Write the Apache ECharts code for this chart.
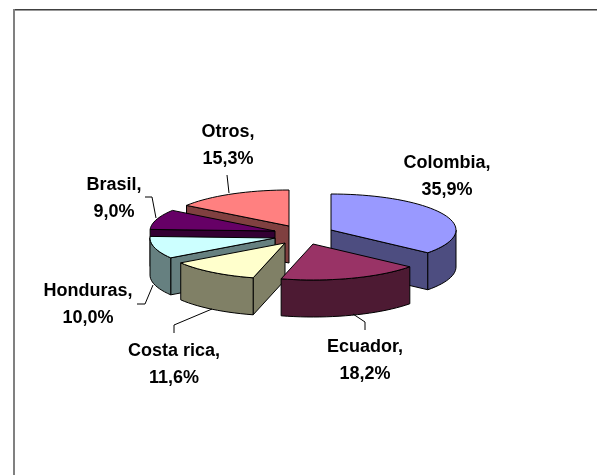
<!DOCTYPE html>
<html>
<head>
<meta charset="utf-8">
<style>html,body{margin:0;padding:0;background:#fff}#c{width:597px;height:475px}</style>
<script src="https://cdn.jsdelivr.net/npm/echarts@6/dist/echarts.min.js"></script>
</head>
<body>
<div id="c"></div>
<script>
const categories = ['Colombia', 'Ecuador', 'Costa rica', 'Honduras', 'Brasil', 'Otros'];
const shares = [35.9, 18.2, 11.6, 10.0, 9.0, 15.3];

const topColors = ['#9999FF', '#993366', '#FFFFCC', '#CCFFFF', '#660066', '#FF8080'];
const wallColors = ['#4D4D80', '#4D1A33', '#808066', '#668080', '#330033', '#804040'];
const apexes = [[331, 230], [313, 244], [285, 243], [275, 238], [275, 231], [289, 226]];
const paintOrder = [1, 5, 4, 3, 2, 0];
const labelCenters = [[447, 177], [365, 361], [174, 365], [88, 305], [114, 198.5], [228, 145.5]];
const leaders = [
  null,
  [[353, 314], [365, 322], [365, 330]],
  [[212, 309], [174, 325], [174, 333]],
  [[153, 285], [145, 304], [137, 304]],
  [[156, 218], [152, 197], [145, 197]],
  [[229, 193], [227, 175]]
];
const RX = 125, RY = 36, DEPTH = 37;

const total = shares.reduce(function (a, b) { return a + b; }, 0);
function startAngle(i) {
  let s = 0;
  for (let k = 0; k < i; k++) s += shares[k];
  return s / total * 360;
}
function rim(c, deg, dy) {
  const r = deg * Math.PI / 180;
  return [c[0] + RX * Math.sin(r), c[1] - RY * Math.cos(r) + (dy || 0)];
}
function arc(c, a, b, dy) {
  const pts = [], n = Math.max(2, Math.ceil((b - a) / 3));
  for (let j = 0; j <= n; j++) pts.push(rim(c, a + (b - a) * j / n, dy));
  return pts;
}
function poly(points, fill, z2) {
  return {
    type: 'polygon', z2: z2,
    shape: { points: points },
    style: { fill: fill, stroke: '#000', lineWidth: 1 }
  };
}
function renderSlice(params, api) {
  const i = params.dataIndex;
  const value = api.value(0);
  const a = startAngle(i), b = a + value / total * 360;
  const c = apexes[i], base = paintOrder[i] * 10, kids = [];
  const below = function (p) { return [p[0], p[1] + DEPTH]; };
  if (a > 180) {
    const e = rim(c, a);
    kids.push(poly([c, e, below(e), below(c)], wallColors[i], base));
  }
  if (b < 180) {
    const e = rim(c, b);
    kids.push(poly([c, e, below(e), below(c)], wallColors[i], base));
  }
  const wa = Math.max(a, 90), wb = Math.min(b, 270);
  if (wb > wa) {
    const t = arc(c, wa, wb);
    kids.push(poly(t.concat(t.map(below).reverse()), wallColors[i], base + 1));
  }
  kids.push(poly([c].concat(arc(c, a, b)), topColors[i], base + 2));
  return { type: 'group', children: kids };
}
function fmt(v) { return v.toFixed(1).replace('.', ','); }

const graphics = [
  { type: 'rect', z: 1, shape: { x: 13, y: 9, width: 584, height: 1 }, style: { fill: '#404040' } },
  { type: 'rect', z: 1, shape: { x: 13, y: 10, width: 584, height: 1 }, style: { fill: '#999999' } },
  { type: 'rect', z: 1, shape: { x: 13, y: 9, width: 2, height: 466 }, style: { fill: '#808080' } }
];
categories.forEach(function (name, i) {
  graphics.push({
    type: 'text', z: 10,
    x: labelCenters[i][0], y: labelCenters[i][1],
    style: {
      text: name + ',\n' + fmt(shares[i]) + '%',
      font: 'bold 18px "Liberation Sans", Arial, sans-serif',
      fill: '#000', align: 'center', verticalAlign: 'middle', lineHeight: 27
    }
  });
  if (leaders[i]) graphics.push({
    type: 'polyline', z: 10,
    shape: { points: leaders[i] },
    style: { fill: null, stroke: '#000', lineWidth: 1 }
  });
});

const chart = echarts.init(document.getElementById('c'), null, { renderer: 'canvas' });
chart.setOption({
  animation: false,
  backgroundColor: '#fff',
  graphic: graphics,
  series: [{
    type: 'custom',
    coordinateSystem: 'none',
    renderItem: renderSlice,
    data: shares.map(function (v, i) { return { name: categories[i], value: [v] }; })
  }]
});
</script>
</body>
</html>
